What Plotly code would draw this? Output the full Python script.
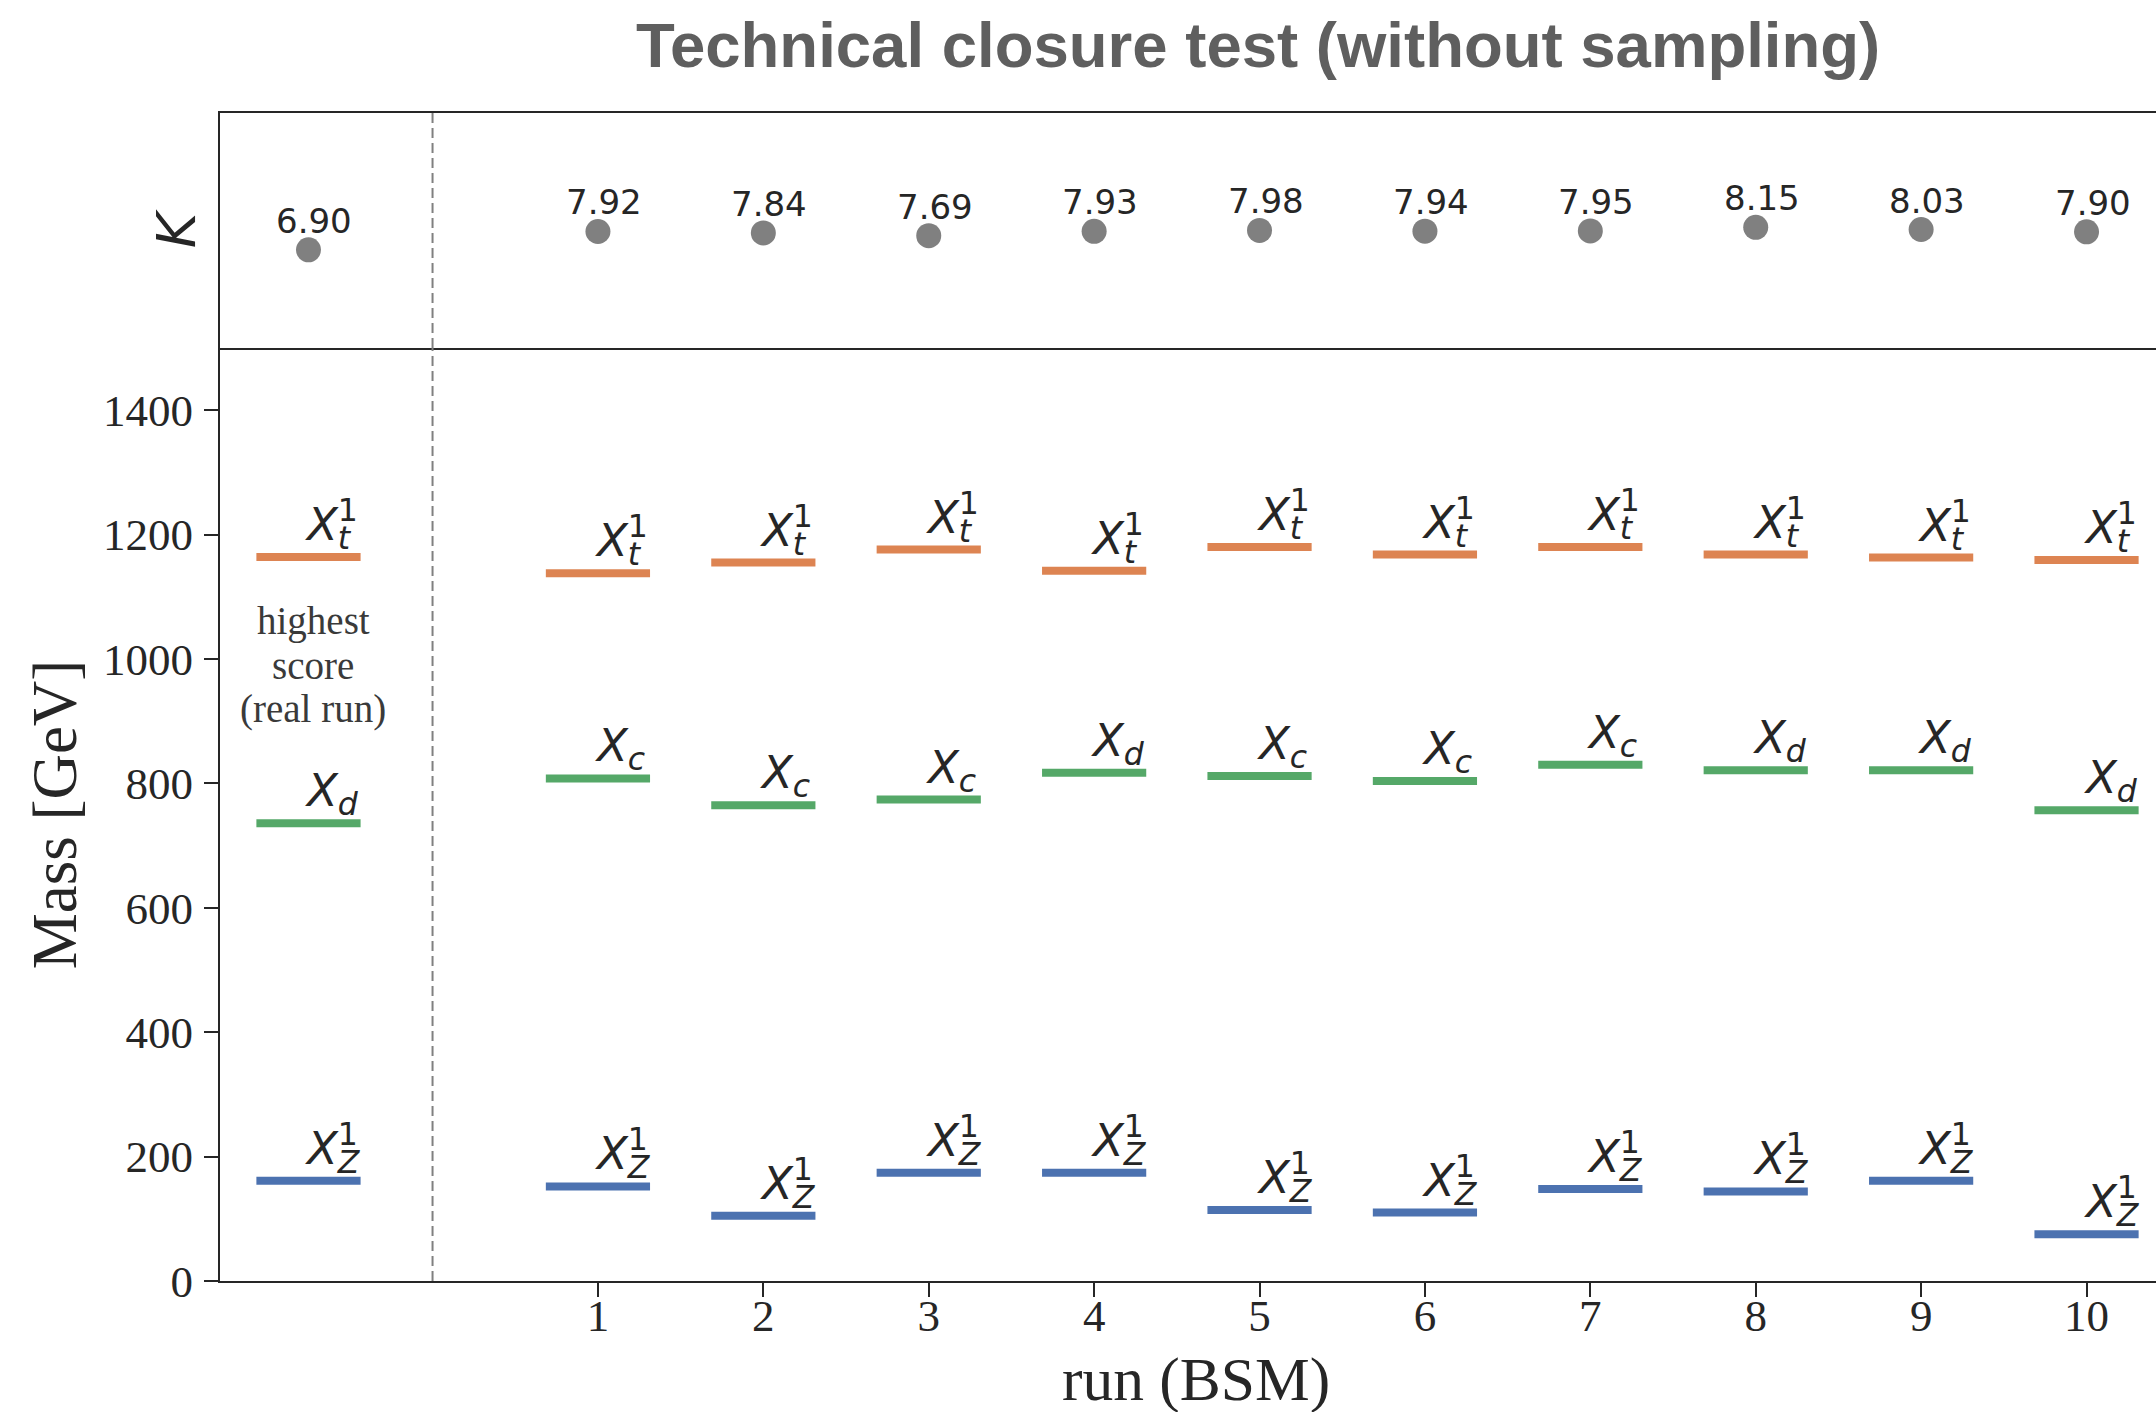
import plotly.graph_objects as go

# ---------------- data ----------------
REAL_RUN_X = -0.75          # position of the "highest score (real run)" column
DIVIDER_X = 0               # dashed separator between real run and BSM runs
run_x = [REAL_RUN_X, 1, 2, 3, 4, 5, 6, 7, 8, 9, 10]
tick_vals = [1, 2, 3, 4, 5, 6, 7, 8, 9, 10]
tick_text = [str(v) for v in tick_vals]
y_ticks = [0, 200, 400, 600, 800, 1000, 1200, 1400]

k_values = [6.90, 7.92, 7.84, 7.69, 7.93, 7.98, 7.94, 7.95, 8.15, 8.03, 7.90]

mass_top = [1164, 1138, 1155, 1176, 1142, 1180, 1168, 1180, 1168, 1163, 1159]   # X_t^1
mass_top_sub = ["t"] * 11
mass_mid = [736, 808, 765, 774, 817, 812, 804, 830, 821, 821, 757]              # X_c / X_d
mass_mid_sub = ["d", "c", "c", "c", "d", "c", "c", "c", "d", "d", "d"]
mass_low = [161, 152, 105, 174, 174, 114, 110, 148, 144, 161, 75]                # X_Z^1
mass_low_sub = ["Z"] * 11

# ---------------- style ----------------
W, H = 2156, 1412
ML, MR, MT, MB = 220, 0, 113, 131
UPPER_FRAC = 235 / (H - MT - MB)
HALF = 0.315
C_BLUE, C_ORANGE, C_GREEN = "#4C72B0", "#DD8452", "#55A868"
INK = "#262626"
SERIF = "Liberation Serif"
SANS = "DejaVu Sans"
TRANSP = "color:rgba(0,0,0,0)"

fig = go.Figure()


def seg(xs, ys):
    X, Y = [], []
    for x, y in zip(xs, ys):
        X += [x - HALF, x + HALF, None]
        Y += [y, y, None]
    return X, Y


for vals, col in [(mass_top, C_ORANGE), (mass_mid, C_GREEN), (mass_low, C_BLUE)]:
    sx, sy = seg(run_x, vals)
    fig.add_trace(go.Scatter(x=sx, y=sy, mode="lines", line=dict(color=col, width=8),
                             xaxis="x", yaxis="y", showlegend=False, hoverinfo="skip"))

fig.add_trace(go.Scatter(x=run_x, y=k_values, mode="markers",
                         marker=dict(size=25, color="#808080"),
                         xaxis="x2", yaxis="y2", showlegend=False))

annotations = []
lab_font = dict(family=SANS, size=45, color=INK)


def add_label(x, y, sub, sup=None):
    main = f"<i>X</i><sub><i>{sub}</i></sub>"
    if sup:
        main += f'<sup><span style="{TRANSP}">{sup}</span></sup>'
    common = dict(x=x, y=y, xref="x", yref="y", xanchor="left", yanchor="bottom",
                  showarrow=False, font=lab_font, borderpad=0, xshift=-4, yshift=0)
    annotations.append(dict(text=main, **common))
    if sup:
        sup_txt = (f'<span style="{TRANSP}"><i>X</i></span><sup>{sup}</sup>'
                   f'<sub><span style="{TRANSP}"><i>{sub}</i></span></sub>')
        annotations.append(dict(text=sup_txt, **common))


for x, v, s in zip(run_x, mass_top, mass_top_sub):
    add_label(x, v, s, "1")
for x, v, s in zip(run_x, mass_mid, mass_mid_sub):
    add_label(x, v, s)
for x, v, s in zip(run_x, mass_low, mass_low_sub):
    add_label(x, v, s, "1")

for x, k in zip(run_x, k_values):
    annotations.append(dict(text=f"{k:.2f}", x=x, y=k, xref="x2", yref="y2",
                            xanchor="center", yanchor="bottom", showarrow=False,
                            font=dict(family=SANS, size=34, color=INK),
                            borderpad=0, xshift=6, yshift=8))

note_lines = ["highest", "score", "(real run)"]
NOTE_Y = 990
for i, t in enumerate(note_lines):
    annotations.append(dict(text=t, x=REAL_RUN_X, y=NOTE_Y, xref="x", yref="y",
                            xanchor="center", yanchor="middle", showarrow=False,
                            font=dict(family=SERIF, size=39, color="#3a3a3a"),
                            xshift=5, yshift=(1 - i) * 44))

# x-axis title (the original axes extend slightly past the cropped right edge)
annotations.append(dict(text="run (BSM)", x=0.5041, y=0, xref="paper", yref="paper",
                        xanchor="center", yanchor="middle", showarrow=False, yshift=-98,
                        font=dict(family=SERIF, size=61.5, color=INK)))

shapes = [
    dict(type="line", xref="x", yref="y domain", x0=DIVIDER_X, x1=DIVIDER_X, y0=0, y1=1,
         line=dict(color="#808080", width=2, dash="10px,5px")),
    dict(type="line", xref="x2", yref="y2 domain", x0=DIVIDER_X, x1=DIVIDER_X, y0=0, y1=1,
         line=dict(color="#808080", width=2, dash="10px,5px")),
]

xr = [-1.285, 10.42]
axis_common = dict(showgrid=False, zeroline=False, showline=True, linecolor=INK, linewidth=2)

fig.update_layout(
    width=W, height=H,
    margin=dict(l=ML, r=MR, t=MT, b=MB, autoexpand=False),
    paper_bgcolor="white", plot_bgcolor="white",
    title=dict(text="<b>Technical closure test (without sampling)</b>",
               x=0.5835, xanchor="center", y=0.9681, yanchor="middle",
               font=dict(family="Liberation Sans", size=63.5, color="#5f5f5f")),
    xaxis=dict(domain=[0, 1], range=xr, anchor="y", tickvals=tick_vals, ticktext=tick_text,
               ticks="outside", ticklen=14, tickwidth=2, tickcolor=INK, ticklabelstandoff=-20,
               tickfont=dict(family=SERIF, size=45, color=INK),
               **axis_common),
    yaxis=dict(domain=[0, 1 - UPPER_FRAC], range=[0, 1500], anchor="x", tickvals=y_ticks,
               ticks="outside", ticklen=14, tickwidth=2, tickcolor=INK, ticklabelstandoff=2,
               tickfont=dict(family=SERIF, size=45, color=INK),
               title=dict(text="Mass [GeV]", font=dict(family=SERIF, size=63, color=INK), standoff=6),
               **axis_common),
    xaxis2=dict(domain=[0, 1], range=xr, anchor="y2", matches="x", showticklabels=False,
                ticks="", mirror=True, **axis_common),
    yaxis2=dict(domain=[1 - UPPER_FRAC, 1], range=[1.45, 14.5], anchor="x2",
                showticklabels=False, ticks="",
                title=dict(text="<i>K</i>", font=dict(family=SANS, size=54, color=INK), standoff=5),
                **axis_common),
    annotations=annotations,
    shapes=shapes,
)

# let the figure fill the window exactly (no page margin, no scrollbars, no modebar)
fig.write_html("out.html",
               config={"displayModeBar": False},
               post_script="document.body.style.margin='0';"
                           "document.documentElement.style.overflow='hidden';"
                           "document.body.style.overflow='hidden';")
